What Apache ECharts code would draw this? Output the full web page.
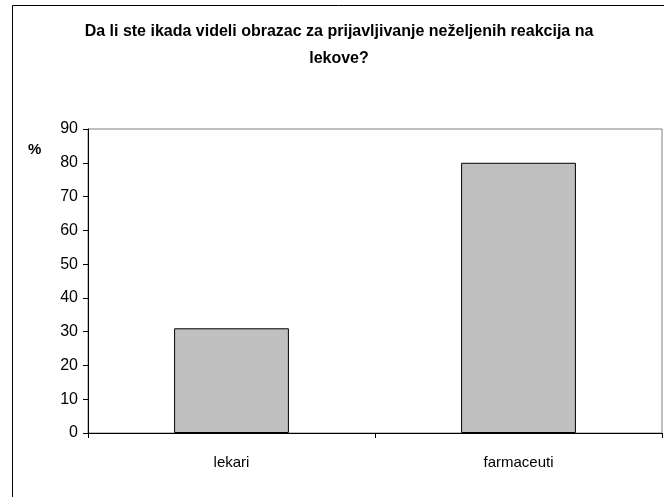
<!DOCTYPE html>
<html lang="sr">
<head>
  <meta charset="UTF-8">
  <title>Obrazac za prijavljivanje</title>
  <style>
    html, body { margin: 0; padding: 0; background: #fff; }
    #chart { width: 664px; height: 497px; }
  </style>
</head>
<body>
  <div id="chart"></div>
  <script src="https://cdn.jsdelivr.net/npm/echarts@6/dist/echarts.min.js"></script>
  <script>
    var categories = ['lekari', 'farmaceuti'];
    var values = [31, 80];
    var titleText = 'Da li ste ikada videli obrazac za prijavljivanje neželjenih reakcija na\nlekove?';

    var chart = echarts.init(document.getElementById('chart'));
    var font = '"Liberation Sans", Arial, sans-serif';

    var option = {
      animation: false,
      title: {
        text: titleText,
        left: 334,
        top: 13,
        textAlign: 'center',
        textStyle: { fontFamily: font, fontSize: 16, fontWeight: 'bold', color: '#000', lineHeight: 27 }
      },
      graphic: [
        // outer chart border, runs off the right and bottom edges
        { type: 'rect', shape: { x: 12.5, y: 5.5, width: 720, height: 600 }, style: { fill: 'none', stroke: '#000', lineWidth: 1 }, z: -1 },
        { type: 'text', left: 28, top: 142, style: { text: '%', fontFamily: font, fontSize: 15, fontWeight: 'bold', fill: '#000' } }
      ],
      grid: { left: 88, right: 2, top: 129, bottom: 64, show: true, borderColor: '#808080', borderWidth: 1 },
      xAxis: {
        type: 'category',
        data: categories,
        axisLine: { lineStyle: { color: '#000' } },
        axisTick: { show: true, length: 5, inside: false, lineStyle: { color: '#000' } },
        axisLabel: { fontFamily: font, fontSize: 15, color: '#000', margin: 22 }
      },
      yAxis: {
        type: 'value',
        min: 0,
        max: 90,
        interval: 10,
        splitLine: { show: false },
        axisLine: { show: true, lineStyle: { color: '#000' } },
        axisTick: { show: true, length: 5, lineStyle: { color: '#000' } },
        axisLabel: { fontFamily: font, fontSize: 16, color: '#000', margin: 10 }
      },
      series: [{
        type: 'bar',
        data: values,
        barWidth: '40%',
        itemStyle: { color: '#C0C0C0', borderColor: '#000', borderWidth: 1 }
      }]
    };
    chart.setOption(option);
  </script>
</body>
</html>
